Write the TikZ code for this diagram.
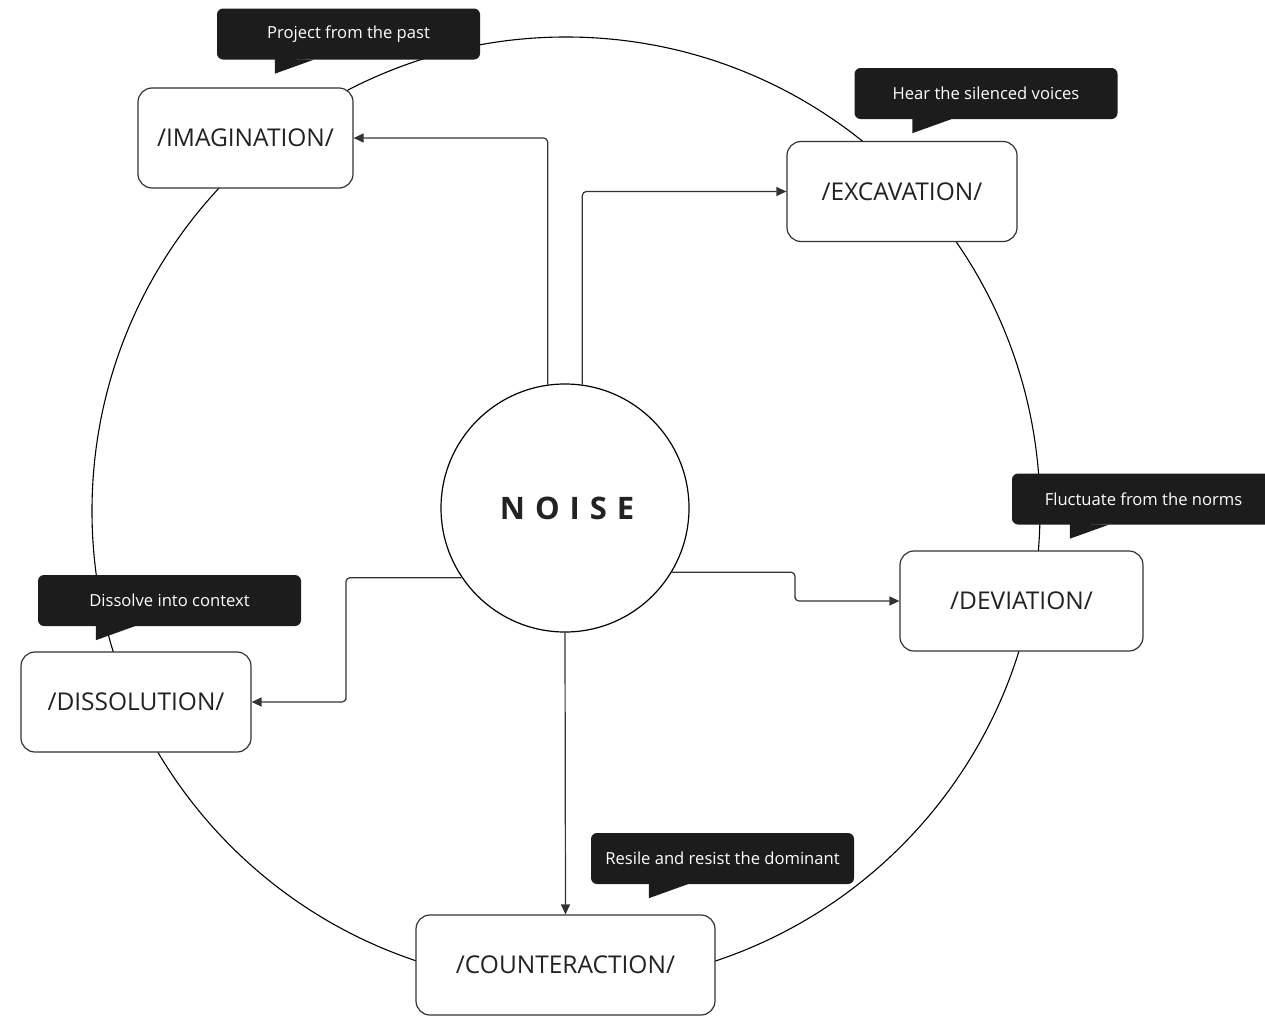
\documentclass[tikz,border=0pt]{standalone}
\usepackage{fontspec}
\setmainfont{Open Sans}
\usetikzlibrary{arrows.meta}
\definecolor{ink}{HTML}{333333}
\definecolor{bubble}{HTML}{1C1C1C}
\definecolor{labelink}{HTML}{222222}
\begin{document}
\begin{tikzpicture}[x=1pt,y=-1pt,
  stage/.style={draw=ink, line width=1.2pt, fill=white, rounded corners=14pt,
    minimum height=100pt, inner sep=0pt, text=labelink,
    font=\fontsize{24.5}{29}\selectfont},
  bubbletext/.style={fill=bubble, rounded corners=6pt, minimum width=263pt,
    minimum height=51pt, inner sep=0pt, text=white,
    font=\fontsize{16.6}{20}\selectfont},
  arr/.style={draw=ink, line width=1.2pt, rounded corners=4pt,
    -{Triangle[length=10pt,width=9pt]}},
  tail/.style={fill=bubble},
]
\useasboundingbox (0,0) rectangle (1265,1017);

% outer ring
\node[circle, draw=black, line width=1.1pt, minimum size=948pt, inner sep=0pt] (ring) at (566,511) {};

% central node
\node[circle, draw=black, line width=1.2pt, fill=white, minimum size=248pt, inner sep=0pt,
  font=\fontsize{31}{36}\selectfont\bfseries\addfontfeatures{LetterSpace=32}, text=labelink]
  (noise) at (565,508) {\hspace{4pt}NOISE};

% stage boxes
\node[stage, minimum width=215pt] (imag) at (245.5,138) {/IMAGINATION/};
\node[stage, minimum width=230pt] (excav) at (902,191.5) {/EXCAVATION/};
\node[stage, minimum width=243pt] (dev) at (1021.5,601) {/DEVIATION/};
\node[stage, minimum width=230pt] (dis) at (136,702) {/DISSOLUTION/};
\node[stage, minimum width=299pt] (counter) at (565.5,965) {/COUNTERACTION/};

% bend points
\coordinate (devbend) at (795,601);
\coordinate (disbend) at (346,702);

% connectors
\draw[arr] (noise.98.3) |- (imag.east);
\draw[arr] (noise.82.1) |- (excav.west);
\draw[arr] (noise.-31.1) -| (devbend) |- (dev.west);
\draw[arr] (noise.214.9) -| (disbend) |- (dis.east);
\draw[arr] (noise.south) -- (counter.north);

% callouts
\node[bubbletext] (c1) at (348.5,34) {Project from the past};
\node[bubbletext] (c2) at (986,93.5) {Hear the silenced voices};
\node[bubbletext] (c3) at (1143.5,499) {Fluctuate from the norms};
\node[bubbletext] (c4) at (169.5,600.5) {Dissolve into context};
\node[bubbletext] (c5) at (722.5,858.5) {Resile and resist the dominant};

\foreach \c in {c1,c2,c3,c4,c5}{
  \fill[tail] ([xshift=58pt,yshift=1pt]\c.south west) -- ++(0,15) -- ++(39,-14) -- cycle;
}
\end{tikzpicture}
\end{document}
